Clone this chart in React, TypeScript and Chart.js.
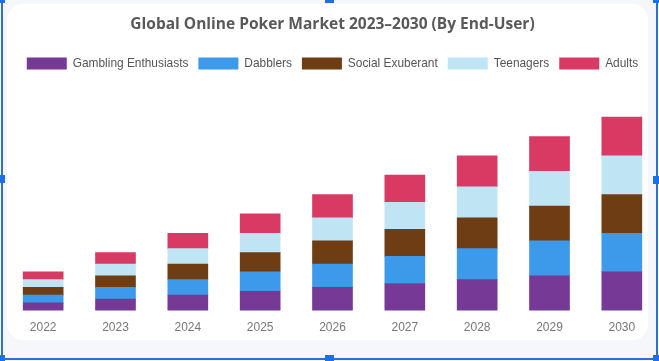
import React, { useEffect, useRef } from 'react';
import { Chart, registerables } from 'chart.js';

Chart.register(...registerables);

const years = ['2022', '2023', '2024', '2025', '2026', '2027', '2028', '2029', '2030'];
const gamblingEnthusiasts = [2, 3, 4, 5, 6, 7, 8, 9, 10];
const dabblers = [2, 3, 4, 5, 6, 7, 8, 9, 10];
const socialExuberant = [2, 3, 4, 5, 6, 7, 8, 9, 10];
const teenagers = [2, 3, 4, 5, 6, 7, 8, 9, 10];
const adults = [2, 3, 4, 5, 6, 7, 8, 9, 10];

const seriesNames = ['Gambling Enthusiasts', 'Dabblers', 'Social Exuberant', 'Teenagers', 'Adults'];
const seriesColors = ['#773996', '#3d9aea', '#6f3d13', '#bfe5f5', '#d93a63'];

const titleText = 'Global Online Poker Market 2023\u20132030 (By End-User)';

export default function App() {
  const ref = useRef<HTMLCanvasElement>(null);

  useEffect(() => {
    document.body.style.margin = '0';
    const seriesData = [gamblingEnthusiasts, dabblers, socialExuberant, teenagers, adults];
    const chart = new Chart(ref.current!, {
      type: 'bar',
      data: {
        labels: years,
        datasets: seriesNames.map((name, i) => ({
          label: name,
          data: seriesData[i],
          backgroundColor: seriesColors[i],
          borderWidth: 0,
          barThickness: 40,
        })),
      },
      options: {
        responsive: false,
        animation: false,
        layout: { padding: { top: 5, left: 7, right: 1, bottom: 16 } },
        plugins: {
          title: {
            display: true,
            text: titleText,
            color: '#595959',
            font: { family: '"Open Sans", sans-serif', size: 15.5, weight: 'bold' },
            padding: { top: 10, bottom: 14 },
          },
          legend: {
            display: true,
            labels: {
              boxWidth: 40,
              boxHeight: 12,
              padding: 10,
              color: '#555',
              font: { family: '"Liberation Sans", Arial, sans-serif', size: 11.9 },
            },
          },
          tooltip: { enabled: false },
        },
        scales: {
          x: {
            stacked: true,
            grid: { display: false, drawTicks: false },
            border: { display: false },
            ticks: {
              color: '#777',
              padding: 10,
              font: { family: '"Liberation Sans", Arial, sans-serif', size: 12 },
            },
          },
          y: {
            stacked: true,
            display: false,
            min: 0,
            max: 59.7,
          },
        },
      },
    });
    return () => chart.destroy();
  }, []);

  const blue = '#2f6fd0';
  const handle = (left: number, top: number, w: number, h: number) => (
    <div style={{ position: 'absolute', left, top, width: w, height: h, background: '#1f6ee8' }} />
  );

  return (
    <div style={{ position: 'relative', width: 659, height: 361, background: '#f5f7fa', overflow: 'hidden' }}>
      <div
        style={{
          position: 'absolute',
          left: 7,
          top: 4,
          width: 641,
          height: 336,
          background: '#ffffff',
          borderRadius: 16,
        }}
      />
      <canvas ref={ref} width={659} height={361} style={{ position: 'absolute', left: 0, top: 0 }} />
      <div style={{ position: 'absolute', left: 1, top: 0, width: 1.5, height: 361, background: blue }} />
      <div style={{ position: 'absolute', left: 656, top: 0, width: 1.5, height: 361, background: blue }} />
      <div style={{ position: 'absolute', left: 0, top: 358, width: 659, height: 1.5, background: blue }} />
      {handle(0, 0, 5, 3)}
      {handle(325, 0, 9, 3)}
      {handle(653, 0, 6, 3)}
      {handle(0, 175, 5, 8)}
      {handle(653, 176, 6, 8)}
      {handle(0, 355, 5, 6)}
      {handle(325, 355, 9, 6)}
      {handle(653, 355, 6, 6)}
    </div>
  );
}
